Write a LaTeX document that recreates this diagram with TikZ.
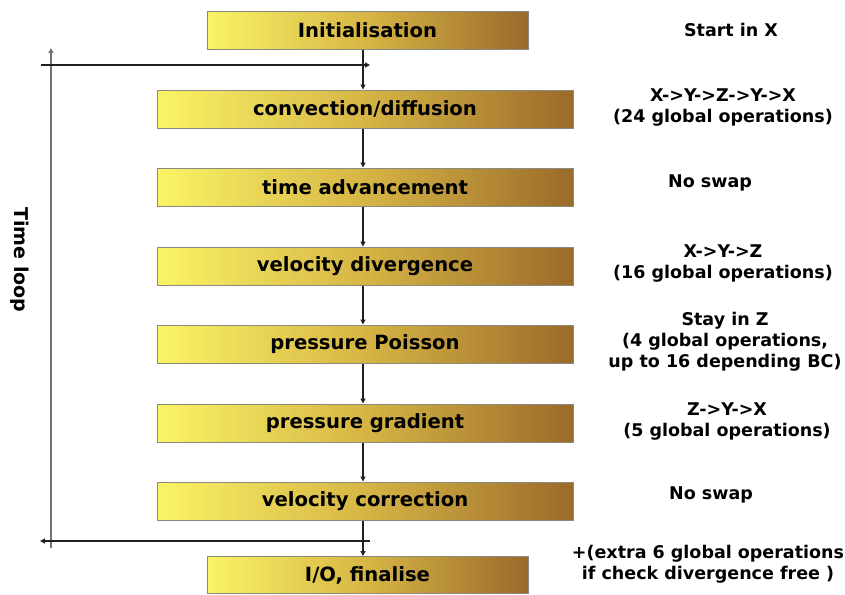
\documentclass[tikz,border=0pt]{standalone}
\usepackage{fontspec}
\setmainfont{DejaVu Sans}
\usetikzlibrary{arrows.meta}
\definecolor{boxleft}{HTML}{FAF466}
\definecolor{boxmid}{HTML}{D6B545}
\definecolor{boxright}{HTML}{9A6A2A}
\definecolor{boxline}{HTML}{8A8A80}
\definecolor{lineclr}{HTML}{202020}
\tikzset{
  stepbox/.style={draw=boxline, line width=1pt, left color=boxleft, right color=boxright, middle color=boxmid,
    minimum height=38pt, inner sep=0pt, font=\fontsize{19.6}{22}\selectfont\bfseries},
  widebox/.style={stepbox, minimum width=416pt},
  narrowbox/.style={stepbox, minimum width=321pt},
  note/.style={align=center, inner sep=0pt, font=\fontsize{17.5}{21}\selectfont\bfseries},
  flow/.style={draw=lineclr, line width=1.2pt, -{Triangle[length=5pt,width=5pt]}},
}
\begin{document}
\begin{tikzpicture}[x=1pt,y=-1pt]
\useasboundingbox (0,0) rectangle (845,594);
% boxes
\node[narrowbox] (init) at (367.5,30.5) {Initialisation};
\node[widebox] (conv) at (365,109) {convection/diffusion};
\node[widebox] (time) at (365,187) {time advancement};
\node[widebox] (div) at (365,266) {velocity divergence};
\node[widebox] (pois) at (365,344) {pressure Poisson};
\node[widebox] (grad) at (365,423) {pressure gradient};
\node[widebox] (corr) at (365,501) {velocity correction};
\node[narrowbox, minimum height=37pt] (fin) at (367.5,575) {I/O, finalise};
% axis of the vertical connectors
\coordinate (ax) at (363,0);
% vertical connectors
\draw[flow] (init.south -| ax) -- (conv.north -| ax);
\draw[flow] (conv.south -| ax) -- (time.north -| ax);
\draw[flow] (time.south -| ax) -- (div.north -| ax);
\draw[flow] (div.south -| ax) -- (pois.north -| ax);
\draw[flow] (pois.south -| ax) -- (grad.north -| ax);
\draw[flow] (grad.south -| ax) -- (corr.north -| ax);
\draw[flow] (corr.south -| ax) -- (fin.north -| ax);
% time loop
\coordinate (loopbot) at (51,548);
\coordinate (looptop) at (51,48);
\coordinate (inl) at (41,65);
\coordinate (inr) at (370,65);
\coordinate (outr) at (370,541);
\coordinate (outl) at (40,541);
\draw[flow, draw=black!55, fill=black!55] (loopbot) -- (looptop);
\draw[flow] (inl) -- (inr);
\draw[flow] (outr) -- (outl);
\node[font=\fontsize{19}{22}\selectfont\bfseries, rotate=-90] (loop) at (20,260) {Time loop};
% notes
\node[note] (n0) at (731,30) {Start in X};
\node[note] (n1) at (723,107.5) {X->Y->Z->Y->X\\(24 global operations)};
\node[note] (n2) at (710,183) {No swap};
\node[note] (n3) at (723,264) {X->Y->Z\\(16 global operations)};
\node[note] (n4) at (725,342) {Stay in Z\\(4 global operations,\\up to 16 depending BC)};
\node[note] (n5) at (727,421.5) {Z->Y->X\\(5 global operations)};
\node[note] (n6) at (711,495) {No swap};
\node[note] (n7) at (708,564) {+(extra 6 global operations\\if check divergence free )};
\end{tikzpicture}
\end{document}
